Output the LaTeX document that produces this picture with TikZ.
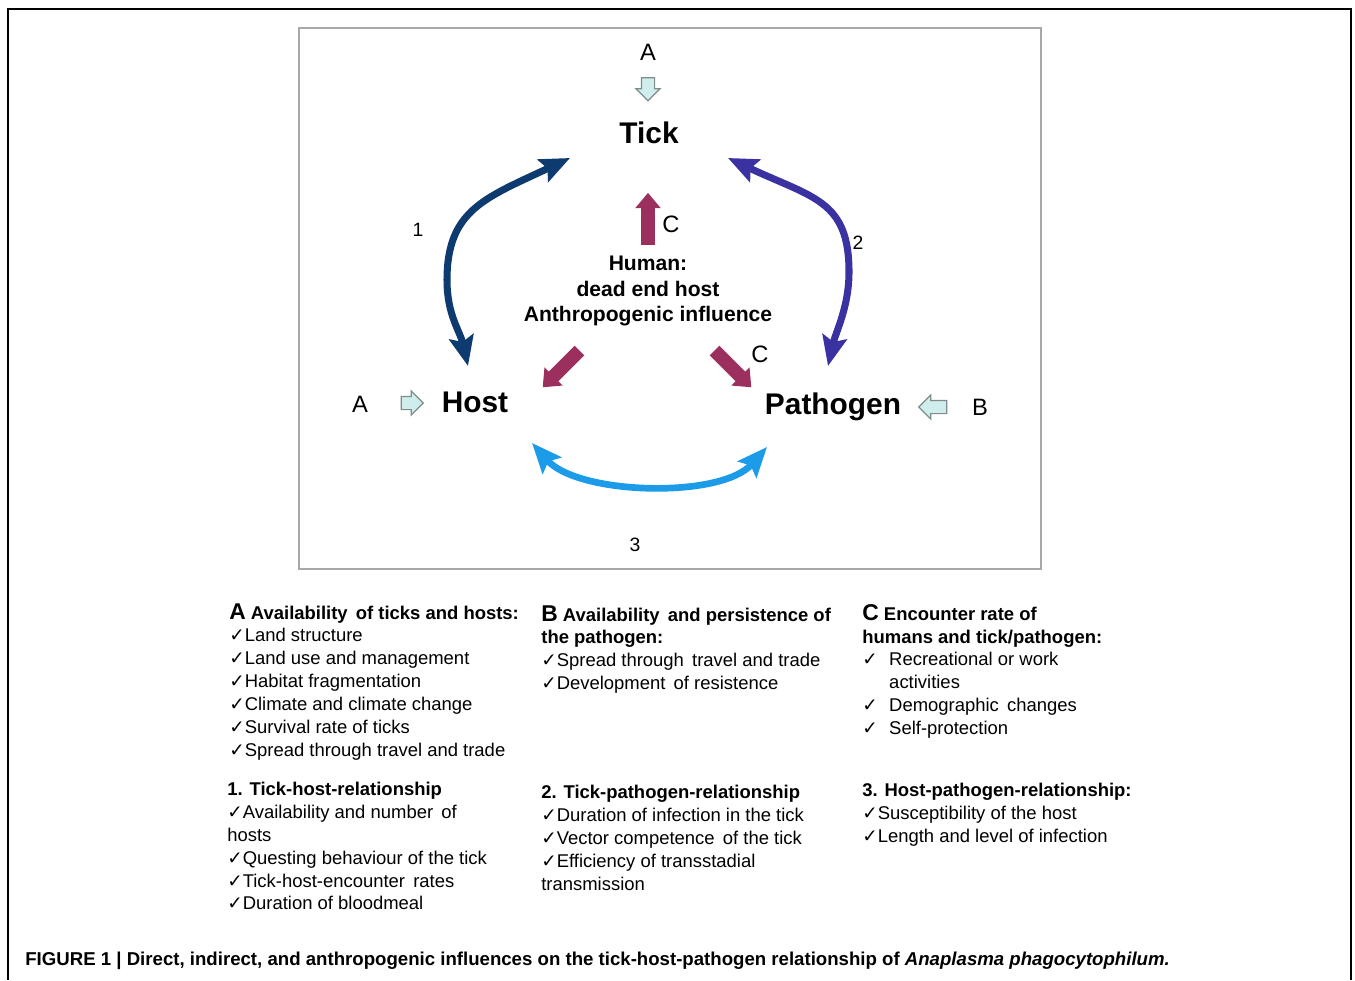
\documentclass[tikz,border=0pt]{standalone}
\usepackage{fontspec}
\setmainfont{Liberation Sans}
\newfontfamily\symfont{DejaVu Sans}
\usetikzlibrary{arrows.meta,shapes.arrows}

\definecolor{navyarrow}{HTML}{0D3B70}
\definecolor{indigoarrow}{HTML}{3A32A0}
\definecolor{skyarrow}{HTML}{1C9BE8}
\definecolor{plum}{HTML}{9B2F5E}
\definecolor{paleaqua}{HTML}{CFEDEC}
\definecolor{aquaedge}{HTML}{7F8C8C}
\definecolor{panelgray}{HTML}{A8A8A8}
\newcommand{\chk}{{\symfont ✓}}

\begin{document}
\begin{tikzpicture}[x=0.02cm, y=-0.02cm,
  every node/.style={inner sep=0pt},
  keyword/.style={font=\bfseries\fontsize{17}{20}\selectfont},
  factor/.style={font=\fontsize{13.5}{16}\selectfont},
  relnum/.style={font=\fontsize{11}{13}\selectfont},
  cyclearrow/.style={line width=4pt, {Stealth[length=17pt,width=14pt,inset=3pt]}-{Stealth[length=17pt,width=14pt,inset=3pt]}},
  humanarrow/.style={single arrow, fill=plum, inner xsep=0pt, inner ysep=0.13cm, single arrow head extend=0.12cm, single arrow tip angle=80, minimum height=1.04cm},
  factorarrow/.style={single arrow, fill=paleaqua, draw=aquaedge, line width=0.7pt, inner xsep=0pt, inner ysep=0.12cm, single arrow head extend=0.11cm, single arrow tip angle=90},
  infotext/.style={anchor=north west, align=left, font=\fontsize{10.5}{13}\selectfont}]
  \useasboundingbox (0,0) rectangle (1355,980);
  \draw[line width=1pt] (8,980) -- (8,9) -- (1351,9) -- (1351,980);
  \draw[panelgray, line width=1pt] (299,28) rectangle (1041,569);

  \node[keyword] (tick) at (649,133) {Tick};
  \node[keyword] (host) at (475,402) {Host};
  \node[keyword] (pathogen) at (833,407) {Pathogen};
  \node[font=\bfseries\fontsize{12}{14.4}\selectfont, align=center] (human) at (648,291) {Human:\\dead end host\\Anthropogenic influence};

  \node[factor] (aTick) at (648,52) {A};
  \node[factor] (aHost) at (360,404) {A};
  \node[factor] (bPath) at (980,407) {B};
  \node[factor] (cTick) at (671,224) {C};
  \node[factor] (cPath) at (760,354) {C};
  \node[relnum] (num1) at (418,230) {1};
  \node[relnum] (num2) at (858,243) {2};
  \node[relnum] (num3) at (635,545) {3};

  \node[factorarrow, rotate=-90, minimum height=0.46cm] (aTickArrow) at (648,86) {};
  \node[factorarrow, minimum height=0.44cm] (aHostArrow) at (409,403) {};
  \node[factorarrow, rotate=180, minimum height=0.56cm] (bPathArrow) at (936,407) {};
  \node[humanarrow, rotate=90] (cTickArrow) at (648,223) {};
  \node[humanarrow, rotate=225] (cHostArrow) at (564,366) {};
  \node[humanarrow, rotate=-45] (cPathArrow) at (730,366) {};

  \coordinate (tickL) at (570,158);
  \coordinate (hostT) at (468,366);
  \coordinate (arcL) at (447,280);
  \coordinate (tickR) at (728,158);
  \coordinate (pathT) at (828,366);
  \coordinate (arcR) at (849,272);
  \coordinate (hostB) at (532,443);
  \coordinate (pathB) at (767,447);
  \draw[cyclearrow, navyarrow] (hostT) .. controls +(-8,-35) and +(0,35) .. (arcL) .. controls +(0,-70) and +(-85,40) .. (tickL);
  \draw[cyclearrow, indigoarrow] (pathT) .. controls +(8,-35) and +(0,35) .. (arcR) .. controls +(0,-72) and +(85,40) .. (tickR);
  \draw[cyclearrow, skyarrow, line width=3.8pt] (hostB) .. controls +(46,52) and +(-46,52) .. (pathB);

  \node[infotext] (availA) at (229,603) {{\bfseries\fontsize{13}{13}\selectfont A} \textbf{Availability\, of ticks and hosts:}\\
    \chk Land structure\\
    \chk Land use and management\\
    \chk Habitat fragmentation\\
    \chk Climate and climate change\\
    \chk Survival rate of ticks\\
    \chk Spread through travel and trade};
  \node[infotext] (availB) at (541,605) {{\bfseries\fontsize{13}{13}\selectfont B} \textbf{Availability\, and persistence of}\\
    \textbf{the pathogen:}\\
    \chk Spread through\, travel and trade\\
    \chk Development\, of resistence};
  \node[infotext] (encC) at (862,604) {{\bfseries\fontsize{13}{13}\selectfont C} \textbf{Encounter rate of}\\
    \textbf{humans and tick/pathogen:}\\
    \makebox[15.3pt][l]{\chk}Recreational or work\\
    \hspace*{15.3pt}activities\\
    \makebox[15.3pt][l]{\chk}Demographic\, changes\\
    \makebox[15.3pt][l]{\chk}Self-protection};
  \node[infotext] (rel1) at (227,782) {\textbf{1. Tick-host-relationship}\\
    \chk Availability and number\, of\\
    hosts\\
    \chk Questing behaviour of the tick\\
    \chk Tick-host-encounter\, rates\\
    \chk Duration of bloodmeal};
  \node[infotext] (rel2) at (541,785) {\textbf{2. Tick-pathogen-relationship}\\
    \chk Duration of infection in the tick\\
    \chk Vector competence\, of the tick\\
    \chk Efficiency of transstadial\\
    transmission};
  \node[infotext] (rel3) at (862,783) {\textbf{3. Host-pathogen-relationship:}\\
    \chk Susceptibility of the host\\
    \chk Length and level of infection};

  \node[anchor=base west, font=\bfseries\fontsize{10.6}{12}\selectfont] (caption) at (25,965) {FIGURE 1 | Direct, indirect, and anthropogenic influences on the tick-host-pathogen relationship of \textit{Anaplasma phagocytophilum.}};
\end{tikzpicture}
\end{document}
